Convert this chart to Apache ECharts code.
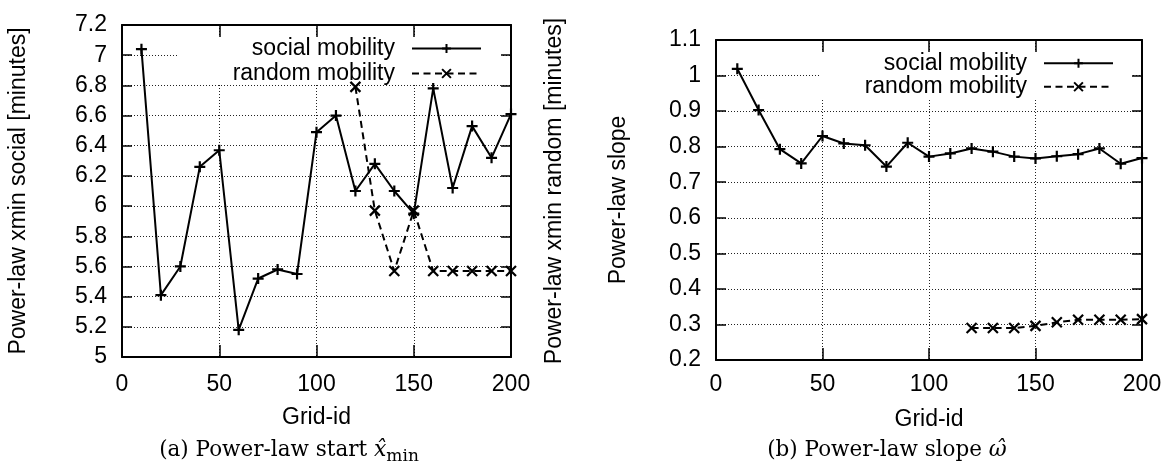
<!DOCTYPE html>
<html><head><meta charset="utf-8">
<script src="https://cdn.jsdelivr.net/npm/echarts@6/dist/echarts.min.js"></script>
<style>html,body{margin:0;padding:0;background:#fff}#c{width:1171px;height:470px}</style>
</head><body><div id="c"></div>
<script>
// ---- data ----
const gridIds = [10,20,30,40,50,60,70,80,90,100,110,120,130,140,150,160,170,180,190,200];
const randomIds = [120,130,140,150,160,170,180,190,200];
const xminSocial = [7.04,5.41,5.60,6.26,6.37,5.18,5.52,5.58,5.55,6.49,6.60,6.10,6.28,6.10,5.95,6.78,6.12,6.53,6.32,6.61];
const xminRandom = [6.79,5.97,5.57,5.97,5.57,5.57,5.57,5.57,5.57];
const slopeSocial = [1.019,0.903,0.793,0.753,0.830,0.809,0.804,0.744,0.811,0.772,0.781,0.795,0.786,0.772,0.767,0.773,0.779,0.795,0.752,0.768];
const slopeRandom = [0.290,0.290,0.290,0.296,0.306,0.313,0.313,0.313,0.315];
const seriesNames = ['social mobility','random mobility'];
const xLabel = 'Grid-id';
const yLabelA = 'Power-law xmin social [minutes]';
const yLabelA2 = 'Power-law xmin random [minutes]';
const yLabelB = 'Power-law slope';

const FONT = 'Liberation Sans';
const SERIF = 'DejaVu Serif';
const plus = 'path://M5,0L5,10M0,5L10,5';
const cross = 'path://M0,0L10,10M0,10L10,0';
const pairs = (xs, ys) => xs.map((x, i) => [x, ys[i]]);

const txt = {fontFamily: FONT, fontSize: 23, color: '#000'};
const gridLine = {show: true, lineStyle: {color: '#222', width: 1, type: [1, 2]}};

function xAxes(gi, tickLen, labelMargin, nameGap) {
  return [{
    gridIndex: gi, type: 'value', min: 0, max: 200, interval: 50, position: 'bottom', z: 0,
    axisLine: {show: true, onZero: false, lineStyle: {color: '#000', width: 2}},
    axisTick: {show: true, inside: true, length: tickLen, lineStyle: {color: '#000', width: 1.5}},
    axisLabel: Object.assign({margin: labelMargin}, txt),
    splitLine: gridLine,
    name: xLabel, nameLocation: 'middle', nameGap: nameGap, nameTextStyle: txt
  }, {
    gridIndex: gi, type: 'value', min: 0, max: 200, interval: 50, position: 'top', z: 3,
    axisLine: {show: true, onZero: false, lineStyle: {color: '#000', width: 2}},
    axisTick: {show: true, inside: true, length: tickLen, lineStyle: {color: '#000', width: 1.5}},
    axisLabel: {show: false}, splitLine: {show: false}
  }];
}
function yAxes(gi, min, max, interval, name, nameGap, rightName, rightGap) {
  return [{
    gridIndex: gi, type: 'value', min: min, max: max, interval: interval, position: 'left', z: 0,
    axisLine: {show: true, onZero: false, lineStyle: {color: '#000', width: 2}},
    axisTick: {show: true, inside: true, length: 10, lineStyle: {color: '#000', width: 1.5}},
    axisLabel: Object.assign({margin: 15}, txt),
    splitLine: gridLine,
    name: name, nameLocation: 'middle', nameRotate: 90, nameGap: nameGap, nameTextStyle: txt
  }, {
    gridIndex: gi, type: 'value', min: min, max: max, interval: interval, position: 'right', z: 3,
    axisLine: {show: true, onZero: false, lineStyle: {color: '#000', width: 2}},
    axisTick: {show: true, inside: true, length: 10, lineStyle: {color: '#000', width: 1.5}},
    axisLabel: {show: false}, splitLine: {show: false},
    name: rightName, nameLocation: 'middle', nameRotate: 90, nameGap: rightGap, nameTextStyle: txt
  }];
}

function lineSeries(name, xi, yi, data, symbol, size, dashed) {
  return {
    name: name, type: 'line', xAxisIndex: xi, yAxisIndex: yi, data: data, z: 2,
    symbol: symbol, symbolSize: size, showAllSymbol: true,
    lineStyle: {color: '#000', width: 2, type: dashed ? [7, 4.5] : 'solid'},
    itemStyle: {color: '#000', borderColor: '#000', borderWidth: 2.2},
    emphasis: {disabled: true}, animation: false
  };
}

function legendAt(right, top, lh) {
  return {
    data: seriesNames, orient: 'vertical', align: 'right', right: right, top: top, padding: 0,
    itemGap: 0, itemWidth: 69, itemHeight: 11, selectedMode: false, z: 6,
    textStyle: {fontFamily: FONT, fontSize: 23, color: '#000', lineHeight: lh, padding: [0, 12, 0, 0]}
  };
}

const captionRich = {
  a: {fontFamily: SERIF, fontSize: 21.5, lineHeight: 30, verticalAlign: 'middle', fill: '#000'},
  i: {fontFamily: SERIF, fontSize: 22, fontStyle: 'italic', lineHeight: 30, verticalAlign: 'middle', fill: '#000'},
  sub: {fontFamily: SERIF, fontSize: 17, lineHeight: 17, verticalAlign: 'bottom', fill: '#000'}
};

const option = {
  backgroundColor: '#fff',
  animation: false,
  grid: [
    {left: 122, top: 25, width: 389, height: 332},
    {left: 716, top: 40, width: 426, height: 320}
  ],
  xAxis: [].concat(xAxes(0, 12, 16, 49), xAxes(1, 12, 13, 48)),
  yAxis: [].concat(yAxes(0, 5, 7.2, 0.2, yLabelA, 92, yLabelA2, 32), yAxes(1, 0.2, 1.1, 0.1, yLabelB, 86, '', 0)),
  legend: [legendAt(689, 36, 25), legendAt(57, 51.5, 23.5)],
  graphic: [
    {type: 'rect', z: 1, shape: {x: 178, y: 37, width: 323, height: 48}, style: {fill: '#fff'}},
    {type: 'rect', z: 1, shape: {x: 819, y: 52, width: 312, height: 48}, style: {fill: '#fff'}},
    {type: 'text', z: 6, x: 289, y: 450, style: {
      text: '{a|(a) Power-law start }{i|x\u0302}{sub|min}', rich: captionRich,
      align: 'center', verticalAlign: 'middle'}},
    {type: 'text', z: 6, x: 887, y: 450, style: {
      text: '{a|(b) Power-law slope }{i|\u03c9\u0302}', rich: captionRich,
      align: 'center', verticalAlign: 'middle'}}
  ],
  series: [
    lineSeries(seriesNames[0], 0, 0, pairs(gridIds, xminSocial), plus, 11, false),
    lineSeries(seriesNames[1], 0, 0, pairs(randomIds, xminRandom), cross, 10, true),
    lineSeries(seriesNames[0], 2, 2, pairs(gridIds, slopeSocial), plus, 11, false),
    lineSeries(seriesNames[1], 2, 2, pairs(randomIds, slopeRandom), cross, 10, true)
  ]
};
const chart = echarts.init(document.getElementById('c'), null, {renderer: 'canvas'});
chart.setOption(option);
</script></body></html>
